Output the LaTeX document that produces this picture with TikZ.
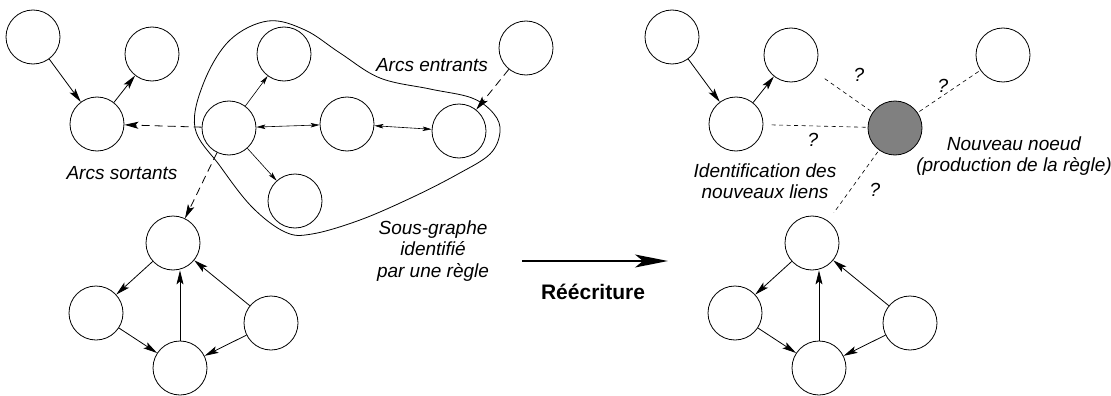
\documentclass[tikz,border=0pt]{standalone}
\usepackage{fontspec}
\setmainfont{Liberation Sans}
\usetikzlibrary{arrows.meta}
\begin{document}
\begin{tikzpicture}[x=1pt,y=-1pt,
  nd/.style={circle,draw,line width=0.8pt,minimum size=54pt,inner sep=0pt},
  newnd/.style={nd,fill=gray},
  arr/.style={line width=0.8pt,-{Stealth[length=14pt,width=7pt,inset=3pt]}},
  sarr/.style={line width=0.6pt,-{Stealth[length=9pt,width=4.5pt,inset=2pt]}},
  sdbl/.style={line width=0.6pt,{Stealth[length=9pt,width=4.5pt,inset=2pt]}-{Stealth[length=9pt,width=4.5pt,inset=2pt]}},
  darr/.style={line width=0.8pt,dash pattern=on 8pt off 5pt,-{Stealth[length=14pt,width=7pt,inset=3pt]}},
  link/.style={line width=0.6pt,dash pattern=on 4pt off 3.5pt,shorten <=2pt},
  lbl/.style={font=\fontsize{19}{21.5}\selectfont\itshape,align=center,inner sep=0pt},
  qm/.style={font=\fontsize{19}{21.5}\selectfont\itshape,inner sep=0pt},
  blob/.style={line width=0.8pt}
]
\useasboundingbox (0,0) rectangle (1111,396);

% ---------- left graph ----------
\node[nd] (A) at (33,37) {};
\node[nd] (B) at (152,54) {};
\node[nd] (C) at (97,124) {};
\node[nd] (D) at (229,128) {};
\node[nd] (E) at (284,54) {};
\node[nd] (F) at (347,124) {};
\node[nd] (G) at (459,131) {};
\node[nd] (H) at (295,201) {};
\node[nd] (I) at (526,48) {};
\node[nd] (J) at (173,243) {};
\node[nd] (K) at (96,313) {};
\node[nd] (L) at (180,368) {};
\node[nd] (M) at (271,323) {};

\draw[blob] plot[smooth cycle,tension=0.6] coordinates {
  (195,128) (204,82) (230,40) (268,21) (305,30) (340,53) (380,78)
  (430,89) (472,98) (494,114) (500,132) (490,154) (458,174) (413,197)
  (360,220) (312,234) (285,232) (252,207) (220,166)};

\draw[arr] (A) -- (C);
\draw[arr] (C) -- (B);
\draw[darr] (D) -- (C);
\draw[sarr] (D) -- (E);
\draw[sdbl] (D) -- (F);
\draw[sdbl] (F) -- (G);
\draw[sarr] (D) -- (H);
\draw[darr] (I) -- (G);
\draw[darr] (D) -- (J);
\draw[arr] (J) -- (K);
\draw[arr] (K) -- (L);
\draw[arr] (L.north) -- (L.north |- J.south);
\draw[arr] (M) -- (J);
\draw[arr] (M) -- (L);

\node[lbl] (lsort) at (122,173) {Arcs sortants};
\node[lbl] (lentr) at (432,65) {Arcs entrants};
\node[lbl] (lsous) at (433,251) {Sous-graphe\\identifié\\par une règle};

% ---------- rewriting arrow ----------
\coordinate (r1) at (522,261);
\coordinate (r2) at (668,261);
\draw[line width=1.2pt,-{Stealth[length=33pt,width=13pt,inset=8pt]}] (r1) -- (r2);
\node[font=\fontsize{21}{24}\selectfont\bfseries,inner sep=0pt] (lrew) at (593,292) {Réécriture};

% ---------- right graph ----------
\node[nd] (A2) at (672,37) {};
\node[nd] (B2) at (791,55) {};
\node[nd] (C2) at (736,124) {};
\node[newnd] (N) at (895,128) {};
\node[nd] (I2) at (1003,55) {};
\node[nd] (J2) at (812,243) {};
\node[nd] (K2) at (735,313) {};
\node[nd] (L2) at (819,368) {};
\node[nd] (M2) at (910,323) {};

\draw[arr] (A2) -- (C2);
\draw[arr] (C2) -- (B2);
\draw[arr] (J2) -- (K2);
\draw[arr] (K2) -- (L2);
\draw[arr] (L2.north) -- (L2.north |- J2.south);
\draw[arr] (M2) -- (J2);
\draw[arr] (M2) -- (L2);

\draw[link] (N) -- (B2) [shorten >=11pt];
\draw[link] (N) -- (C2) [shorten >=8pt];
\draw[link] (N) -- (I2);
\draw[link] (N) -- (J2) [shorten >=10pt];

\node[qm] (q1) at (859,75) {?};
\node[qm] (q2) at (943,86) {?};
\node[qm] (q3) at (813,140) {?};
\node[qm] (q4) at (875,190) {?};

\node[lbl] (lident) at (765,181) {Identification des\\nouveaux liens};
\node[lbl] (lnouv) at (1014,156) {Nouveau noeud\\(production de la règle)};
\end{tikzpicture}
\end{document}
